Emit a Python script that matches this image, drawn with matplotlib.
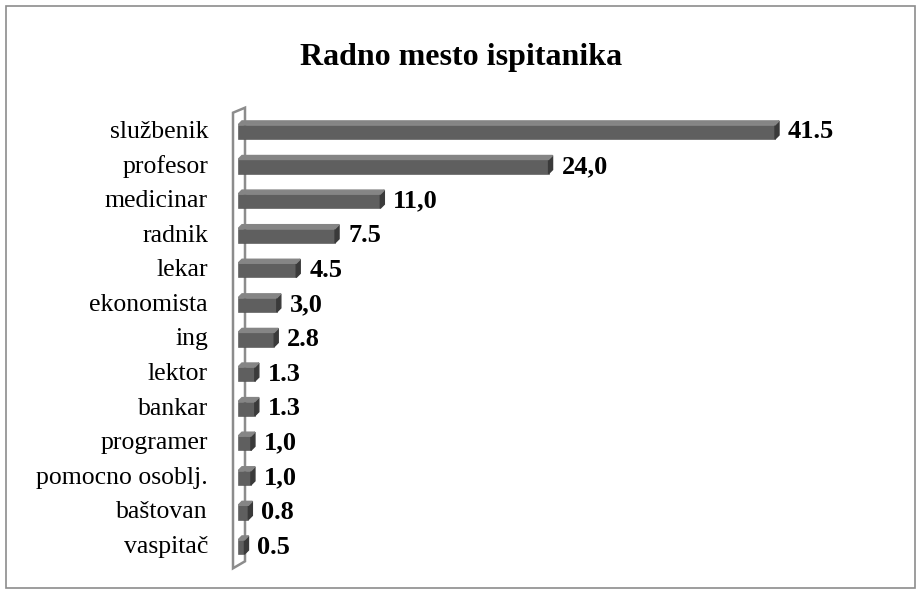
import matplotlib.pyplot as plt
from matplotlib.patches import Polygon, Rectangle

categories = ["službenik", "profesor", "medicinar", "radnik", "lekar", "ekonomista",
              "ing", "lektor", "bankar", "programer", "pomocno osoblj.", "baštovan", "vaspitač"]
values = [41.5, 24.0, 11.0, 7.5, 4.5, 3.0, 2.8, 1.3, 1.3, 1.0, 1.0, 0.8, 0.5]
value_labels = ["41.5", "24,0", "11,0", "7.5", "4.5", "3,0", "2.8",
                "1.3", "1.3", "1,0", "1,0", "0.8", "0.5"]

plt.rcParams["font.family"] = ["Liberation Serif", "DejaVu Serif"]

W, H = 922, 594
fig = plt.figure(figsize=(W / 100, H / 100), dpi=100)

# figure border
fig.patches.append(Rectangle((6 / W, 6 / H), 909 / W, 582 / H, transform=fig.transFigure,
                             fill=False, edgecolor="#8c8c8c", linewidth=1.2))

fig.text(0.5, 1 - 57 / H, "Radno mesto ispitanika", ha="center", va="center",
         fontsize=23, fontweight="bold")

# axes: x from 238px, rows 131..546 px
left, right = 238, 900
top, bottom = 114.7, 564.3
px = 12.94   # pixels per unit on x
py = 34.6    # pixels per row
ax = fig.add_axes([left / W, 1 - bottom / H, (right - left) / W, (bottom - top) / H])
ax.set_xlim(0, (right - left) / px)
ax.set_ylim(len(categories) - 0.5, -0.5)
ax.axis("off")

y = list(range(len(categories)))
bh = 0.41
dx = 4 / px          # depth offset in data units
dy = 4 / py
front, side, topc = "#5f5f5f", "#3a3a3a", "#858585"

ax.barh(y, values, height=bh, color=front, edgecolor="#4f4f4f", linewidth=0.4, zorder=3)
for yi, v in zip(y, values):
    y0, y1 = yi - bh / 2, yi + bh / 2
    ax.add_patch(Polygon([(v, y0), (v + dx, y0 - dy), (v + dx, y1 - dy), (v, y1)],
                         closed=True, color=side, zorder=3))
    ax.add_patch(Polygon([(0, y0), (dx, y0 - dy), (v + dx, y0 - dy), (v, y0)],
                         closed=True, color=topc, zorder=3))

for yi, v, lab in zip(y, values, value_labels):
    ax.text(v + dx + 9 / px, yi, lab, va="center", ha="left",
            fontsize=19, fontweight="bold")

# category labels
for yi, c in zip(y, categories):
    ax.text(-30 / px, yi, c, va="center", ha="right", fontsize=18.5, clip_on=False)

# wall outline
wall_x0 = -5 / px
wall_x1 = 7 / px
yb = len(categories) - 0.5 + 4 / py
yt = -0.5 - 2 / py
wall = Polygon([(wall_x0, yb), (wall_x0, yt), (wall_x1, yt - 5 / py),
                (wall_x1, yb - 7 / py)], closed=True, fill=False,
               edgecolor="#8c8c8c", linewidth=1.8, clip_on=False, zorder=2)
ax.add_patch(wall)

fig.savefig("out.png", dpi=100)
